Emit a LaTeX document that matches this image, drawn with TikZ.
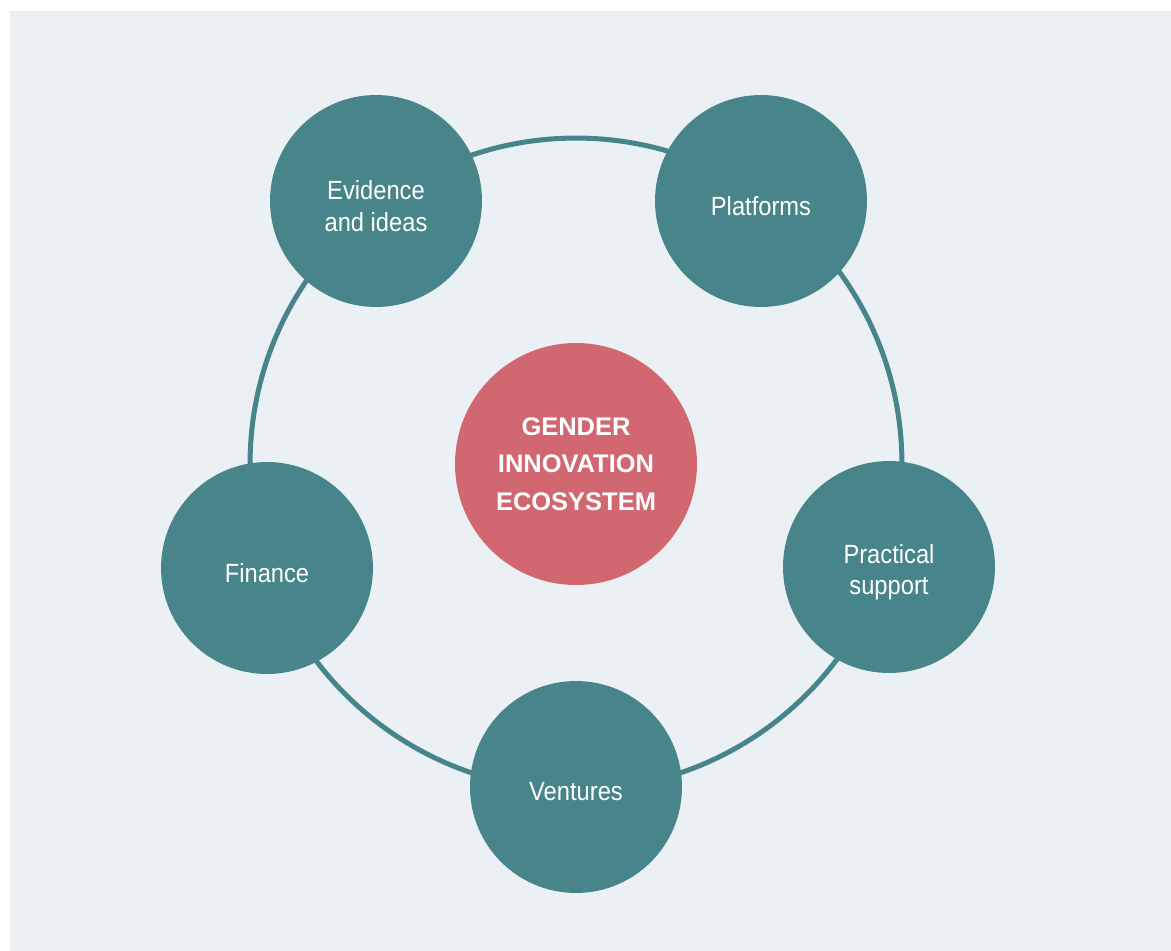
\documentclass[tikz,border=0pt]{standalone}
\usepackage{fontspec}
\setmainfont{Liberation Sans}
\newfontfamily\narrowfont[FakeStretch=0.9]{Liberation Sans}

\definecolor{panel}{HTML}{EAF0F3}
\definecolor{petrol}{HTML}{47858A}
\definecolor{rose}{HTML}{D16771}

\begin{document}
\begin{tikzpicture}[x=0.02cm, y=-0.02cm,
	every node/.style={text centered},
	pillar/.style={circle, fill=petrol, minimum size=4.24cm, inner sep=0pt},
	caption/.style={align=center, text=white, yshift=-0.1cm,
		font=\narrowfont\fontsize{15}{18}\selectfont},
	hub/.style={circle, fill=rose, minimum size=4.84cm, inner sep=0pt,
		align=center, text=white, font=\bfseries\fontsize{14.5}{21.3}\selectfont},
	ring/.style={draw=petrol, line width=0.1cm}]

	% page and panel
	\useasboundingbox (0, 0) rectangle (1171, 951);
	\fill[panel] (10, 11) rectangle (1171, 951);

	% ecosystem in the middle, ring behind the five pillars
	\node[hub] (eco) at (576, 464) {GENDER\\INNOVATION\\ECOSYSTEM};
	\draw[ring] (eco.center) circle[radius=6.52cm];

	\node[pillar, label={[caption]center:{Evidence\\and ideas}}] (ideas) at (376, 201) {};
	\node[pillar, label={[caption]center:Platforms}] (platforms) at (761, 201) {};
	\node[pillar, label={[caption]center:{Practical\\support}}] (support) at (889, 567) {};
	\node[pillar, label={[caption]center:Ventures}] (ventures) at (576, 787) {};
	\node[pillar, label={[caption]center:Finance}] (finance) at (267, 568) {};
\end{tikzpicture}
\end{document}
